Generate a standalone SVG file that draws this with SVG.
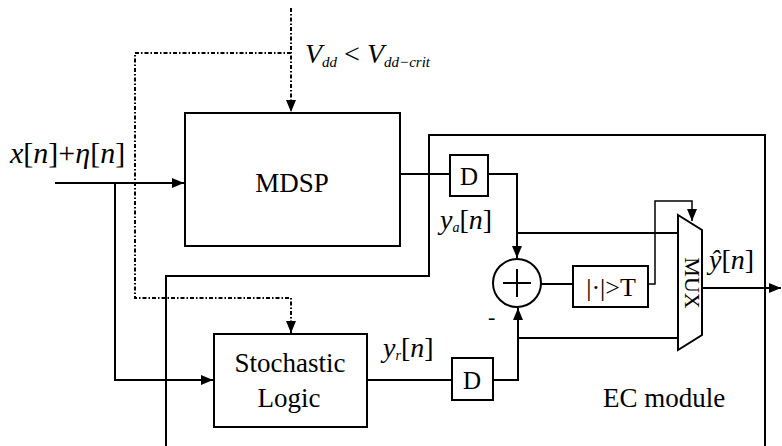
<svg xmlns="http://www.w3.org/2000/svg" width="782" height="446" viewBox="0 0 782 446">
<defs>
<marker id="ah" viewBox="0 0 12 10" refX="12" refY="5" markerWidth="12" markerHeight="10" markerUnits="userSpaceOnUse" orient="auto">
<path d="M0,0 L12,5 L0,10 Z" fill="#000"/>
</marker>
</defs>
<style>
.ln{fill:none;stroke:#000;stroke-width:2}
.dt{fill:none;stroke:#000;stroke-width:2;stroke-dasharray:4 2 1.5 2}
.bx{fill:#fff;stroke:#000;stroke-width:2}
text{font-family:'Liberation Serif',serif;fill:#000}
.i{font-style:italic}
</style>
<rect width="782" height="446" fill="#fff"/>
<g id="connectors">
<path class="ln" d="M166,446 L166,276 L429,276 L429,135 L765,135 L765,446"/>
<path class="dt" d="M291,8 L291,112" marker-end="url(#ah)"/>
<path class="dt" d="M291,53 L135,53 L135,298 L291,298 L291,333" marker-end="url(#ah)"/>
<path class="ln" d="M55,183 L184,183" marker-end="url(#ah)"/>
<path class="ln" d="M115,183 L115,380 L213,380" marker-end="url(#ah)"/>
<path class="ln" d="M400,174 L450,174"/>
<path class="ln" d="M488,174 L517,174 L517,258" marker-end="url(#ah)"/>
<path class="ln" d="M517,233 L678,233"/>
<path class="ln" d="M541,284 L573,284"/>
<path class="ln" d="M648,284 L655,284 L655,201 L692,201 L692,221" marker-end="url(#ah)" style="stroke-width:1.5"/>
<path class="ln" d="M367,380 L452,380"/>
<path class="ln" d="M493,380 L518,380 L518,308" marker-end="url(#ah)"/>
<path class="ln" d="M518,338 L678,338"/>
<path class="ln" d="M702,288 L781,288" marker-end="url(#ah)"/>
</g>
<g id="mdsp">
<rect class="bx" x="185" y="113" width="215" height="133"/>
<text x="292" y="192" font-size="27" text-anchor="middle">MDSP</text>
</g>
<g id="stochastic">
<rect class="bx" x="214" y="334" width="153" height="93"/>
<text x="290" y="372" font-size="27" text-anchor="middle">Stochastic</text>
<text x="289" y="407" font-size="27" text-anchor="middle">Logic</text>
</g>
<g id="d1">
<rect class="bx" x="450" y="155" width="38" height="41"/>
<text x="469" y="185" font-size="25" text-anchor="middle">D</text>
</g>
<g id="d2">
<rect class="bx" x="452" y="358" width="41" height="42"/>
<text x="472" y="389" font-size="25" text-anchor="middle">D</text>
</g>
<g id="adder">
<circle class="bx" cx="517" cy="283" r="24"/>
<path class="ln" d="M503,283 L531,283 M517,269 L517,297"/>
</g>
<g id="threshold">
<rect class="bx" x="573" y="266" width="75" height="41"/>
<text x="611" y="296" font-size="26" text-anchor="middle">|·|&gt;T</text>
</g>
<g id="mux">
<path class="bx" d="M678,215 L702,230 L702,335 L678,350 Z"/>
<text transform="translate(685,283) rotate(90)" font-size="22" text-anchor="middle">MUX</text>
</g>
<g id="labels">
<text x="10" y="163" font-size="30"><tspan class="i">x</tspan>[<tspan class="i">n</tspan>]+<tspan class="i">η</tspan>[<tspan class="i">n</tspan>]</text>
<text class="i" x="305" y="63" font-size="28">V<tspan font-size="15" dy="4">dd</tspan><tspan dy="-4" font-style="normal"> &lt; </tspan>V<tspan font-size="15" dy="4">dd−crit</tspan></text>
<text x="440" y="229" font-size="28"><tspan class="i">y</tspan><tspan class="i" font-size="14" dy="3">a</tspan><tspan dy="-3">[</tspan><tspan class="i">n</tspan>]</text>
<text x="383" y="357" font-size="28"><tspan class="i">y</tspan><tspan class="i" font-size="14" dy="3">r</tspan><tspan dy="-3">[</tspan><tspan class="i">n</tspan>]</text>
<text x="709" y="269" font-size="28"><tspan class="i">ŷ</tspan>[<tspan class="i">n</tspan>]</text>
<text x="488" y="324" font-size="22">-</text>
<text x="603" y="407" font-size="27">EC module</text>
</g>
</svg>
